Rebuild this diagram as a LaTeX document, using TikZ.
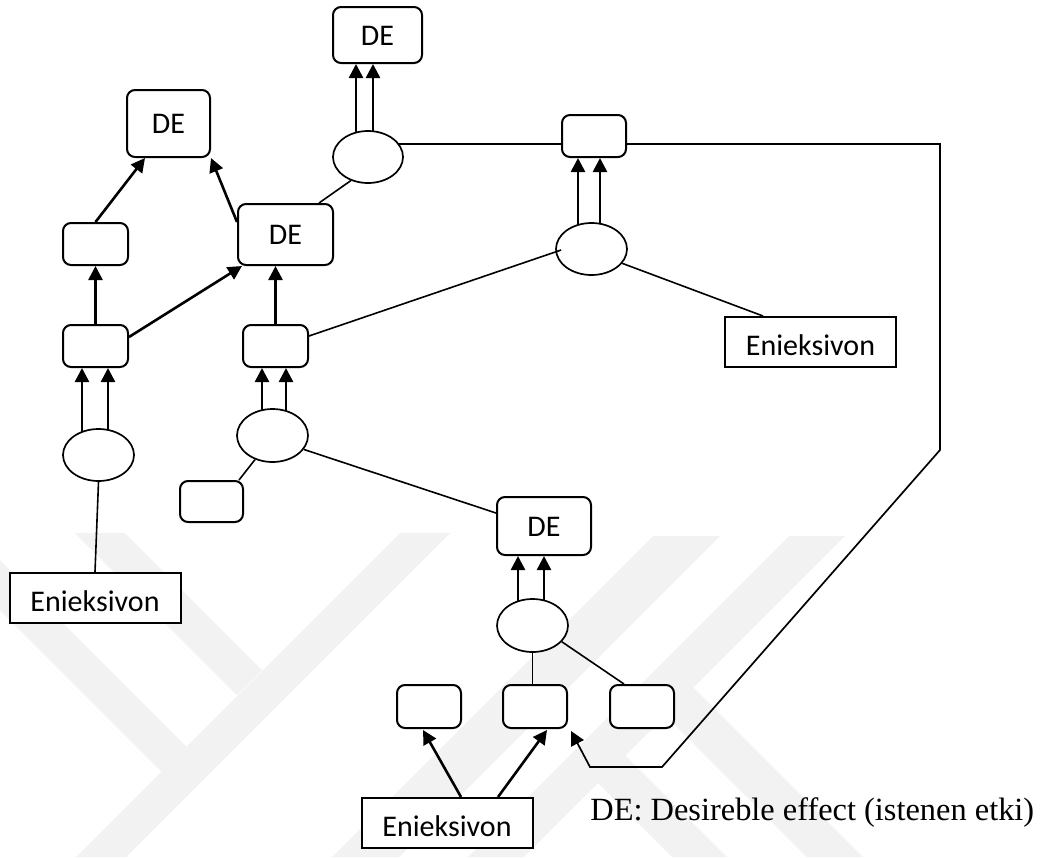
\documentclass[tikz,border=0pt]{standalone}
\usepackage{fontspec}
\setmainfont{Liberation Serif}
\newfontfamily\boxfont{Carlito}
\usetikzlibrary{arrows.meta,calc,shapes.geometric}
\pgfdeclarelayer{bg}
\pgfsetlayers{bg,main}

% two parallel upward arrows from an oval to the box above it
\newcommand\twinup[4]{%
  \path (#1.center) ++(#3,0) coordinate (tw1) (#1.center) ++(#4,0) coordinate (tw2);
  \draw[arr] (tw1) -- (tw1 |- #2.south);
  \draw[arr] (tw2) -- (tw2 |- #2.south);}

\begin{document}
\begin{tikzpicture}[x=0.5pt,y=-0.5pt,
  lbl/.style={font=\boxfont\fontsize{15}{18}\selectfont},
  rbox/.style={draw,rounded corners=4pt,line width=1pt,fill=white,inner sep=0pt,
    lbl,text height=10pt,text depth=0pt},
  sbox/.style={draw,line width=1pt,fill=white,inner sep=0pt,
    minimum width=85.5pt,minimum height=25pt,lbl,text height=13pt,text depth=0pt},
  oval/.style={draw,ellipse,line width=0.85pt,fill=white,inner sep=0pt},
  dims/.style 2 args={minimum width=#1,minimum height=#2},
  arr/.style={line width=1.3pt,-{Triangle[length=7pt,width=7pt]}},
  link/.style={line width=0.8pt},
  loop/.style={line width=0.85pt,-{Triangle[length=7pt,width=7pt]}},
  wm/.style={fill=black!5,draw=none}]

\useasboundingbox (0,0) rectangle (1043,857);

% ---- nodes ----
\node[rbox,dims={44.5pt}{28pt}]   (de1) at (377.5,35)  {DE};
\node[oval,dims={35pt}{26pt}]     (e1)  at (368,157)   {};
\node[rbox,dims={41.5pt}{33.5pt}] (de3) at (168.5,123.5) {DE};
\node[rbox,dims={47.5pt}{30.5pt}] (de2) at (285.5,234.5) {DE};
\node[rbox,dims={32.5pt}{21pt}]   (s1)  at (95.5,244)  {};
\node[rbox,dims={32.5pt}{21pt}]   (s2)  at (95.5,346)  {};
\node[oval,dims={35.5pt}{26pt}]   (e2)  at (98.5,455)  {};
\node[sbox]                       (en1) at (95,598)    {Enieksivon};
\node[rbox,dims={32.5pt}{21pt}]   (s3)  at (275.5,346) {};
\node[oval,dims={35.5pt}{26.5pt}] (e4)  at (272.5,435.5) {};
\node[rbox,dims={31.5pt}{20.5pt}] (s4)  at (211.5,501.5) {};
\node[rbox,dims={47pt}{29pt}]     (de4) at (544,526)   {DE};
\node[oval,dims={35.5pt}{26.5pt}] (e5)  at (532.5,625.5) {};
\node[rbox,dims={32pt}{21.5pt}]   (s5)  at (429,706.5) {};
\node[rbox,dims={32pt}{21.5pt}]   (s6)  at (535,706.5) {};
\node[rbox,dims={32pt}{21.5pt}]   (s7)  at (642,706.5) {};
\node[sbox]                       (en3) at (447,823)   {Enieksivon};
\node[rbox,dims={32pt}{21pt}]     (s8)  at (594,136)   {};
\node[oval,dims={35.5pt}{26pt}]   (e3)  at (591.5,249) {};
\node[sbox]                       (en2) at (810.5,342) {Enieksivon};
\node[anchor=base west,inner sep=0pt,font=\fontsize{16.2}{19}\selectfont]
  (legend) at (590,820) {DE: Desireble effect (istenen etki)};

% route of the long feedback line
\coordinate (fb1) at (940,144);
\coordinate (fb2) at (940,450);
\coordinate (fb3) at (662,767);
\coordinate (fb4) at (590,767);

\begin{pgfonlayer}{bg}
  % faint background emblem
  \begin{scope}
    \clip (0,0) rectangle (1043,857);
    \fill[wm] (75,533) -- (125,533) -- (262,670) -- (237,695) -- cycle;
    \fill[wm] (400,533) -- (450,533) -- (126,857) -- (76,857) -- cycle;
    \fill[wm] (0,560) -- (199,759) -- (174,784) -- (0,610) -- cycle;
    \fill[wm] (653,536) -- (720,536) -- (399,857) -- (332,857) -- cycle;
    \fill[wm] (789,536) -- (845,536) -- (524,857) -- (468,857) -- cycle;
    \fill[wm] (679.5,673.5) -- (863,857) -- (807,857) -- (651.5,701.5) -- cycle;
    \fill[wm] (611.5,741.5) -- (727,857) -- (672,857) -- (584,769) -- cycle;
  \end{scope}

  % paired arrows
  \twinup{e1}{de1}{-12}{5}
  \twinup{e3}{s8}{-13.5}{8.5}
  \twinup{e2}{s2}{-16.5}{9.5}
  \twinup{e4}{s3}{-10.5}{13.5}
  \twinup{e5}{de4}{-14.5}{11.5}

  % single arrows
  \draw[arr] (s1.north) -- ($(de3.south)+(-23.5,0)$);
  \draw[arr] ($(de2.west)+(0,-12.5)$) -- (de3.south east);
  \draw[arr] (s2.north) -- (s1.south);
  \draw[arr] ($(s2.east)+(0,-9)$) -- ($(de2.south west)+(5,0)$);
  \draw[arr] (s3.north) -- (s3.north |- de2.south);
  \draw[arr] ($(en3.north)+(14,0)$) -- ($(s5.south)+(-6,1)$);
  \draw[arr] ($(en3.north)+(51,0)$) -- ($(s6.south)+(12,1)$);

  % plain links
  \draw[link] (e1.234) -- ($(de2.north east)+(-15,0)$);
  \draw[link] (e2.south) -- (en1.north);
  \draw[link] (e3.-25) -- ($(en2.north)+(-47.5,0)$);
  \draw[link] (e4.234) -- ($(s4.north east)+(-5,0)$);
  \draw[link] (e4.-24) -- ($(de4.west)+(0,-13)$);
  \draw[link] (e5.south) -- (e5.south |- s6.north);
  \draw[link] (e5.-29) -- ($(s7.north west)+(15,0)$);

  % feedback line behind the top-right box, down and back to the bottom row
  \draw[loop] ($(e1.center)+(0,-13)$) -- (fb1) -- (fb2) -- (fb3) -- (fb4)
    -- ($(s6.south east)+(3,2)$);
\end{pgfonlayer}

\draw[link] ($(s3.east)+(0,-10)$) -- ($(e3.west)+(6,1)$);
\end{tikzpicture}
\end{document}
